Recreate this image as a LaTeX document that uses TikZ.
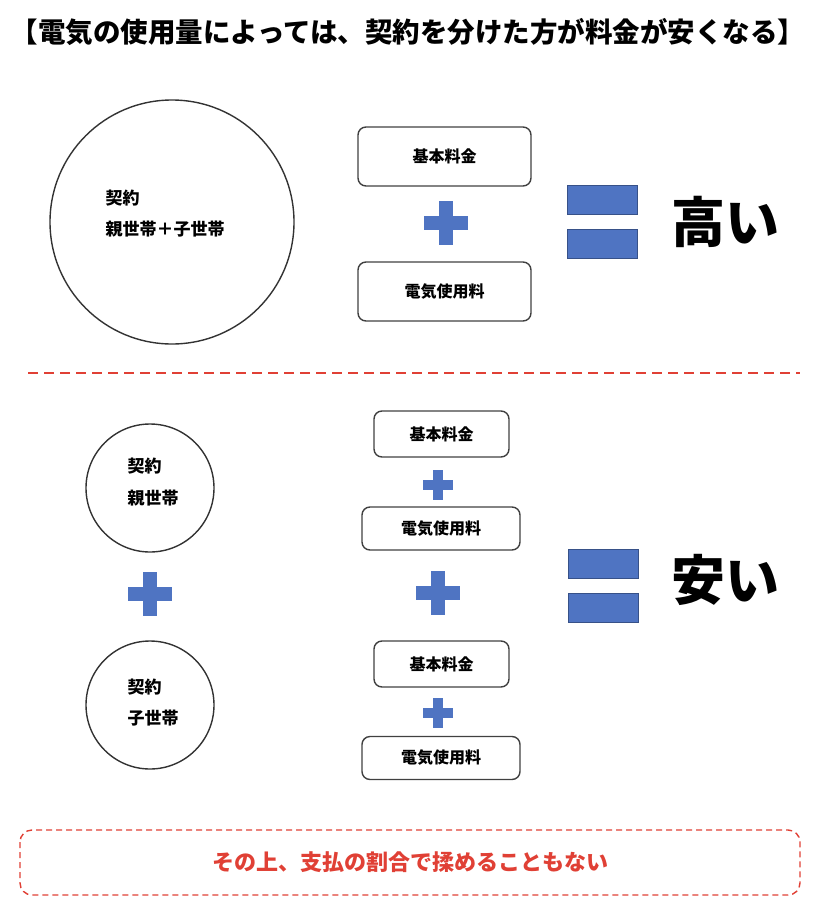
\documentclass[tikz,border=0pt]{standalone}
\usepackage{fontspec}
\setmainfont{Noto Sans CJK JP}
\begin{document}
\begin{tikzpicture}[x=1pt,y=-1pt,
  box/.style={draw=black!75,line width=1.4pt,rounded corners=8pt,font=\bfseries\fontsize{16}{18}\selectfont},
  circ/.style={draw=black!80,line width=1.4pt,circle},
  bar/.style={fill=blu,draw=blu!70!black,line width=0.6pt},
  lbl/.style={font=\bfseries\fontsize{17}{20}\selectfont,anchor=west}]
\definecolor{blu}{HTML}{4F74C2}
\definecolor{rd}{HTML}{E04035}
\newcommand{\myplus}[4]{% x y size arm
  \fill[blu] (#1-#3/2,#2-#4/2) rectangle (#1+#3/2,#2+#4/2);
  \fill[blu] (#1-#4/2,#2-#3/2) rectangle (#1+#4/2,#2+#3/2);}
\useasboundingbox (0,0) rectangle (828,918);
\node[font=\bfseries\fontsize{27.5}{30}\selectfont] (title) at (408,32) {【電気の使用量によっては、契約を分けた方が料金が安くなる】};
% top
\node[circ,minimum size=244pt] (c1) at (172,222) {};
\node[lbl] (c1a) at (102,198) {契約};
\node[lbl] (c1b) at (102,229) {親世帯＋子世帯};
\node[box,minimum width=173pt,minimum height=59pt] (b1) at (444.5,156.5) {基本料金};
\node[box,minimum width=173pt,minimum height=59pt] (b2) at (444.5,291.5) {電気使用料};
\myplus{446}{223}{44}{14}
\draw[bar] (567,185) rectangle (637,214);
\draw[bar] (567,229) rectangle (637,258);
\node[font=\bfseries\fontsize{54}{60}\selectfont] (t1) at (725,222) {高い};
\draw[rd,line width=1.8pt,dash pattern=on 10pt off 6pt] (28,373) -- (800,373);
% bottom
\node[circ,minimum size=128pt] (c2) at (150,488) {};
\node[lbl] (c2a) at (124,466) {契約};
\node[lbl] (c2b) at (124,498) {親世帯};
\node[circ,minimum size=128pt] (c3) at (150,705) {};
\node[lbl] (c3a) at (124,687) {契約};
\node[lbl] (c3b) at (124,718) {子世帯};
\myplus{150}{594}{44}{14}
\node[box,minimum width=135pt,minimum height=46pt] (b3) at (441.5,434) {基本料金};
\node[box,minimum width=158pt,minimum height=43pt] (b4) at (441,528.5) {電気使用料};
\node[box,minimum width=135pt,minimum height=46pt] (b5) at (441.5,664) {基本料金};
\node[box,minimum width=158pt,minimum height=43pt] (b6) at (441,758) {電気使用料};
\myplus{438}{485}{30}{10}
\myplus{438}{713}{30}{10}
\myplus{438}{593}{44}{14}
\draw[bar] (568,549) rectangle (638,578);
\draw[bar] (568,593) rectangle (638,622);
\node[font=\bfseries\fontsize{54}{60}\selectfont] (t2) at (725,580) {安い};
\draw[rd,line width=1.4pt,dash pattern=on 6pt off 4pt,rounded corners=12pt] (20,830) rectangle (800,895);
\node[text=rd,font=\bfseries\fontsize{22}{26}\selectfont] (note) at (410,862) {その上、支払の割合で揉めることもない};
\end{tikzpicture}
\end{document}
